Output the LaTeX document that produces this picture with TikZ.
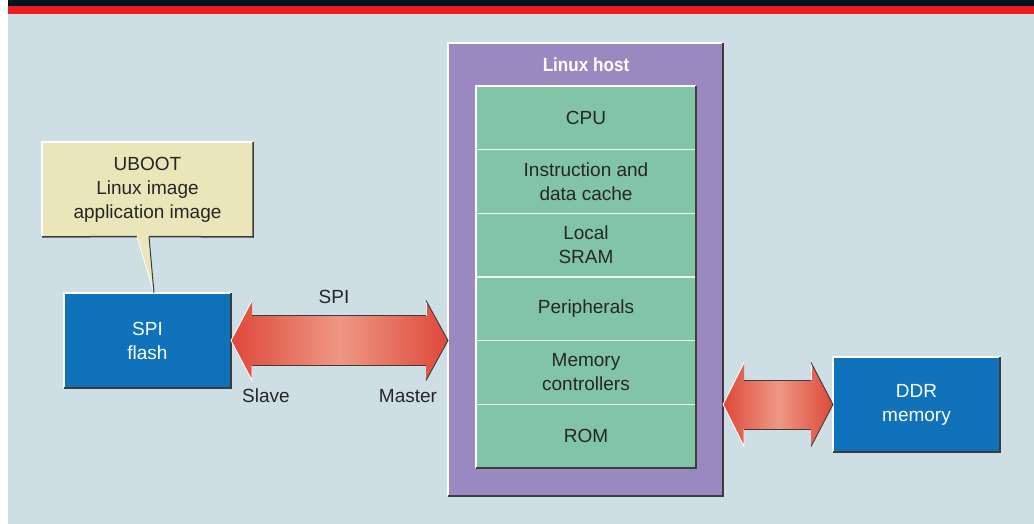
\documentclass[tikz,border=0pt]{standalone}
\usepackage{fontspec}
\setmainfont{Liberation Sans}
\newfontfamily\hostfont{Liberation Sans}[FakeStretch=0.9]
\usetikzlibrary{calc}
\definecolor{bgc}{RGB}{205,222,229}
\definecolor{barblack}{RGB}{0,20,32}
\definecolor{barred}{RGB}{237,28,36}
\definecolor{hostc}{RGB}{153,137,192}
\definecolor{greenc}{RGB}{130,196,166}
\definecolor{bluec}{RGB}{16,114,186}
\definecolor{notec}{RGB}{234,230,186}
\definecolor{ared}{RGB}{222,72,58}
\definecolor{alight}{RGB}{238,152,132}
\definecolor{txt}{RGB}{38,38,38}
\definecolor{shadc}{RGB}{60,60,60}
\tikzset{
  base/.style={inner sep=0pt, outer sep=0pt, align=center, font=\fontsize{19}{24}\selectfont, text=txt},
  bluebox/.style={base, fill=bluec, text=white},
  hostbox/.style={base, fill=hostc},
  rowbox/.style={base, fill=greenc, minimum width=220pt, minimum height=63.67pt},
  notebox/.style={base, fill=notec},
  lbl/.style={base},
  hi/.style={white, line width=1.1pt},
  lo/.style={shadc, line width=1.5pt},
  sep/.style={white!85!greenc, line width=1.2pt},
  arrowfill/.style={left color=ared, right color=ared, middle color=alight},
}
\newcommand{\bevelbox}[1]{%
  \draw[hi] (#1.south west) -- (#1.north west) -- (#1.north east);
  \draw[lo] (#1.north east) -- (#1.south east) -- (#1.south west);}
\begin{document}
\begin{tikzpicture}[x=1pt,y=-1pt]
\useasboundingbox (0,0) rectangle (1034,524);
% background and top bars
\fill[white] (0,0) rectangle (1034,524);
\fill[bgc] (8,14) rectangle (1034,524);
\fill[barblack] (8,0) rectangle (1034,6);
\fill[barred] (8,6) rectangle (1034,14);

% Linux host
\node[hostbox, minimum width=275pt, minimum height=453pt] (host) at (585.5,269.5) {};
\bevelbox{host}
\node[lbl, text=white, font=\hostfont\bfseries\fontsize{19}{24}\selectfont] (hosttitle) at (586,65) {Linux host};

\node[rowbox] (r1) at (586,117.83) {CPU};
\node[rowbox] (r2) at (586,181.5) {Instruction and\\data cache};
\node[rowbox] (r3) at (586,245.17) {Local\\SRAM};
\node[rowbox] (r4) at (586,308.83) {Peripherals};
\node[rowbox] (r5) at (586,372.5) {Memory\\controllers};
\node[rowbox] (r6) at (586,436.17) {ROM};
\foreach \r in {r1,r2,r3,r4,r5}{\draw[sep] (\r.south west) -- (\r.south east);}
\draw[hi] (r6.south west) -- (r1.north west) -- (r1.north east);
\draw[lo] (r1.north east) -- (r6.south east) -- (r6.south west);

% SPI flash
\node[bluebox, minimum width=167pt, minimum height=95pt] (flash) at (147.5,340.5) {SPI\\flash};
\bevelbox{flash}

% DDR memory
\node[bluebox, minimum width=167pt, minimum height=95pt] (ddr) at (916.5,404.5) {DDR\\memory};
\bevelbox{ddr}

% callout
\node[notebox, minimum width=211pt, minimum height=95pt] (note) at (147.5,189.5) {UBOOT\\Linux image\\application image};
\coordinate (tailL) at ($(note.south)+(-10.5,-0.5)$);
\coordinate (tailR) at ($(note.south)+(1.5,-0.5)$);
\coordinate (tailT) at ($(flash.north)+(6.5,0)$);
\fill[notec] (tailL) -- (tailT) -- (tailR) -- cycle;
\draw[hi] (note.south west) -- (note.north west) -- (note.north east);
\draw[lo] (note.north east) -- (note.south east) -- (tailR);
\draw[lo] (tailL) -- (note.south west);
\draw[white, line width=0.8pt] (tailL) -- (tailT);
\draw[shadc, line width=1pt] (tailR) -- (tailT);

% SPI arrow
\coordinate (sL) at (flash.east);
\coordinate (sR) at (host.west |- flash.east);
\shade[arrowfill] (sL) -- ($(sL)+(21,-40)$) -- ($(sL)+(21,-25)$) -- ($(sR)+(-22,-25)$) -- ($(sR)+(-22,-40)$) -- (sR)
  -- ($(sR)+(-22,40)$) -- ($(sR)+(-22,25)$) -- ($(sL)+(21,25)$) -- ($(sL)+(21,40)$) -- cycle;
\draw[white, line width=0.9pt] ($(sL)+(21,25)$) -- ($(sL)+(21,40)$) -- (sL) -- ($(sL)+(21,-40)$);
\draw[shadc, line width=0.9pt] ($(sL)+(21,-25)$) -- ($(sR)+(-22,-25)$);
\draw[white, line width=0.9pt] ($(sR)+(-22,-25)$) -- ($(sR)+(-22,-40)$);
\draw[shadc, line width=0.9pt] ($(sR)+(-22,-40)$) -- (sR) -- ($(sR)+(-22,40)$);
\draw[shadc, line width=0.9pt] ($(sR)+(-22,25)$) -- ($(sL)+(21,25)$);
\node[lbl] (spi) at (334,297) {SPI};
\node[lbl] (slave) at (266,396) {Slave};
\node[lbl] (master) at (408,396) {Master};

% DDR arrow
\coordinate (dL) at (host.east |- ddr.west);
\coordinate (dR) at (ddr.west);
\shade[arrowfill] (dL) -- ($(dL)+(21,-42)$) -- ($(dL)+(21,-24.5)$) -- ($(dR)+(-22,-24.5)$) -- ($(dR)+(-22,-42)$) -- (dR)
  -- ($(dR)+(-22,42)$) -- ($(dR)+(-22,24.5)$) -- ($(dL)+(21,24.5)$) -- ($(dL)+(21,42)$) -- cycle;
\draw[white, line width=0.9pt] ($(dL)+(21,24.5)$) -- ($(dL)+(21,42)$) -- (dL) -- ($(dL)+(21,-42)$);
\draw[shadc, line width=0.9pt] ($(dL)+(21,-24.5)$) -- ($(dR)+(-22,-24.5)$);
\draw[white, line width=0.9pt] ($(dR)+(-22,-24.5)$) -- ($(dR)+(-22,-42)$);
\draw[shadc, line width=0.9pt] ($(dR)+(-22,-42)$) -- (dR) -- ($(dR)+(-22,42)$);
\draw[shadc, line width=0.9pt] ($(dR)+(-22,24.5)$) -- ($(dL)+(21,24.5)$);
\end{tikzpicture}
\end{document}
